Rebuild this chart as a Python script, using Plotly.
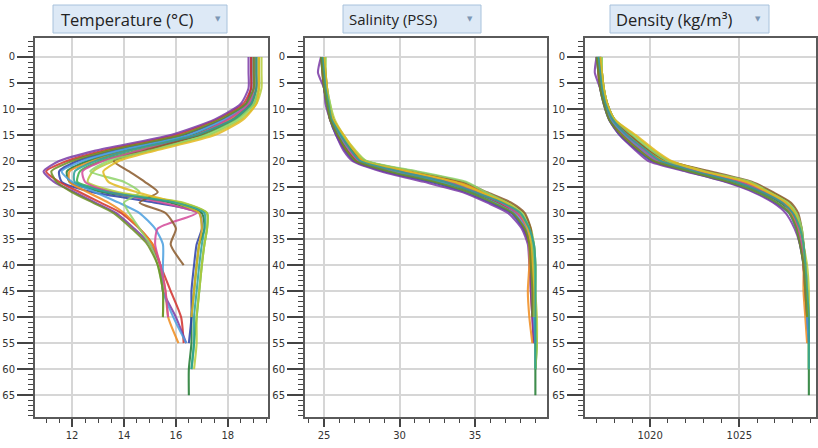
import plotly.graph_objects as go

# ---------------- data ----------------
depth = [0, 3, 6, 9, 12, 15, 18, 20, 22, 24, 26, 28, 30, 33, 36, 40, 45, 50, 55, 60, 65]

colors = ["#1e7a2e", "#3cb043", "#2b3fa8", "#b5cc3a", "#d2302c", "#7b3aa6", "#f08c1e",
          "#4a9fe0", "#d44a9a", "#8a5a2b", "#8fd46a", "#e2b91f", "#2aa198", "#6b8e23"]

N = None
temperature = [
    [19.0, 19.0, 19.0, 18.8, 18.0, 16.6, 14.0, 12.6, 11.8, 11.9, 13.2, 15.8, 17.0, 17.1, 16.9, 16.8, 16.7, 16.6, 16.6, 16.5, 16.5],
    [19.2, 19.2, 19.2, 19.0, 18.3, 17.0, 14.5, 13.1, 12.3, 12.2, 13.6, 16.2, 17.2, 17.2, 17.1, 17.0, 16.9, 16.8, 16.7, 16.6, N],
    [18.9, 18.9, 18.9, 18.7, 17.8, 16.3, 13.6, 12.2, 11.5, 11.6, 12.8, 15.2, 16.9, 17.0, 16.8, 16.7, 16.6, 16.6, 16.5, N, N],
    [19.3, 19.3, 19.3, 19.1, 18.5, 17.3, 14.9, 13.6, 12.8, 12.6, 13.8, 16.3, 17.2, 17.2, 17.1, 17.0, 16.9, 16.8, 16.8, 16.7, N],
    [18.9, 18.9, 18.9, 18.6, 17.6, 16.0, 13.2, 11.8, 11.0, 11.5, 12.3, 13.1, 13.9, 14.6, 15.1, 15.4, 15.8, 16.2, 16.3, N, N],
    [18.8, 18.8, 18.8, 18.5, 17.5, 15.8, 12.9, 11.5, 10.9, 11.3, 12.1, 12.9, 13.7, 14.4, 15.0, 15.4, 15.5, 16.0, 16.4, N, N],
    [19.1, 19.1, 19.1, 18.9, 18.1, 16.8, 14.2, 12.8, 11.9, 11.9, 12.6, 13.4, 14.0, 14.6, 15.1, 15.4, 15.6, 15.7, 16.1, N, N],
    [19.0, 19.0, 19.0, 18.8, 17.9, 16.5, 13.8, 12.4, 11.6, 12.0, 12.9, 13.8, 14.6, 15.2, 15.5, 15.5, 15.5, 15.9, 16.4, N, N],
    [19.0, 19.0, 19.0, 18.8, 18.0, 16.8, 14.6, 13.2, 12.4, 12.5, 13.5, 15.5, 16.8, 15.3, 15.2, 15.4, 15.6, 15.7, N, N, N],
    [19.1, 19.1, 19.1, 18.9, 18.2, 16.9, 14.8, 13.6, 14.2, 14.8, 15.3, 14.6, 15.6, 16.0, 15.8, 16.3, N, N, N, N, N],
    [19.2, 19.2, 19.2, 19.0, 18.4, 17.2, 15.0, 13.4, 12.7, 14.0, 14.6, 14.0, 14.2, 14.6, 15.0, 15.3, 15.5, 15.5, N, N, N],
    [19.2, 19.2, 19.2, 19.1, 18.6, 17.5, 15.2, 13.8, 13.2, 13.4, 14.5, 16.0, 16.9, 17.0, 16.9, 16.8, 16.7, 16.6, N, N, N],
    [19.1, 19.1, 19.1, 18.9, 18.2, 16.8, 14.2, 12.9, 12.1, 12.1, 13.4, 16.0, 17.1, 17.1, 17.0, 16.9, 16.8, 16.7, 16.7, 16.6, N],
    [19.0, 19.0, 19.0, 18.7, 17.7, 16.2, 13.4, 12.0, 11.2, 11.4, 12.0, 12.8, 13.6, 14.3, 14.9, 15.3, 15.5, 15.5, N, N, N],
]

salinity = [
    [24.9, 25.0, 25.1, 25.2, 25.5, 26.0, 26.6, 27.2, 29.5, 32.5, 34.8, 36.5, 37.8, 38.5, 38.8, 38.9, 38.9, 39.0, 39.0, 39.0, 39.0],
    [25.0, 25.0, 25.1, 25.3, 25.6, 26.2, 26.9, 27.6, 30.2, 33.4, 35.3, 36.9, 38.0, 38.6, 38.9, 39.0, 39.0, 39.0, 39.1, 39.0, N],
    [24.8, 24.9, 25.0, 25.2, 25.4, 25.8, 26.4, 27.0, 29.0, 32.0, 34.4, 36.0, 37.4, 38.2, 38.6, 38.8, 38.8, 38.9, 39.0, N, N],
    [25.1, 25.1, 25.2, 25.4, 25.7, 26.3, 27.1, 27.8, 30.8, 34.0, 35.6, 37.2, 38.2, 38.7, 38.9, 39.0, 39.0, 39.1, 39.1, 39.0, N],
    [24.9, 24.9, 25.0, 25.2, 25.4, 25.9, 26.5, 27.3, 29.8, 33.0, 35.0, 36.6, 37.6, 38.3, 38.6, 38.7, 38.7, 38.8, 38.9, N, N],
    [24.8, 24.6, 25.0, 25.1, 25.4, 25.8, 26.3, 26.9, 28.8, 31.6, 34.2, 35.8, 37.2, 38.1, 38.5, 38.6, 38.7, 38.8, 38.9, N, N],
    [25.0, 25.0, 25.1, 25.3, 25.6, 26.1, 26.8, 27.5, 30.4, 33.8, 35.5, 37.0, 37.9, 38.4, 38.6, 38.6, 38.5, 38.6, 38.8, N, N],
    [24.9, 25.0, 25.1, 25.2, 25.5, 26.0, 26.7, 27.4, 29.6, 32.6, 34.6, 36.3, 37.6, 38.4, 38.7, 38.8, 38.8, 38.9, 39.0, N, N],
    [25.0, 25.0, 25.1, 25.3, 25.5, 26.1, 26.7, 27.3, 30.0, 33.2, 35.1, 36.7, 37.8, 38.5, 38.7, 38.8, 38.8, 38.9, N, N, N],
    [25.0, 25.1, 25.2, 25.3, 25.6, 26.2, 26.9, 27.7, 31.0, 34.2, 35.8, 37.4, 38.3, 38.7, 38.8, 38.9, N, N, N, N, N],
    [25.1, 25.1, 25.2, 25.4, 25.6, 26.2, 27.0, 27.8, 31.2, 34.4, 35.7, 37.1, 38.1, 38.6, 38.8, 38.9, 38.9, 38.9, N, N, N],
    [25.0, 25.1, 25.2, 25.3, 25.6, 26.3, 27.0, 27.6, 30.6, 33.6, 35.4, 37.0, 38.0, 38.5, 38.7, 38.8, 38.9, 39.0, N, N, N],
    [24.9, 25.0, 25.1, 25.3, 25.5, 26.1, 26.8, 27.4, 30.0, 33.0, 35.0, 36.8, 38.0, 38.6, 38.9, 39.0, 39.0, 39.0, 39.0, 39.0, N],
    [24.8, 24.9, 25.0, 25.2, 25.4, 25.9, 26.5, 27.1, 29.3, 32.3, 34.6, 36.2, 37.5, 38.3, 38.6, 38.7, 38.8, 38.8, N, N, N],
]

density = [
    [1017.1, 1017.2, 1017.3, 1017.5, 1017.8, 1018.6, 1019.6, 1020.4, 1022.4, 1024.6, 1026.2, 1027.3, 1028.0, 1028.3, 1028.5, 1028.7, 1028.8, 1028.9, 1028.9, 1028.9, 1028.9],
    [1017.2, 1017.3, 1017.4, 1017.6, 1018.0, 1018.9, 1019.9, 1020.8, 1022.8, 1025.1, 1026.5, 1027.6, 1028.1, 1028.4, 1028.6, 1028.7, 1028.8, 1028.9, 1028.9, 1028.9, N],
    [1017.0, 1017.1, 1017.2, 1017.4, 1017.7, 1018.3, 1019.3, 1020.1, 1022.1, 1024.3, 1025.9, 1027.0, 1027.8, 1028.2, 1028.4, 1028.6, 1028.7, 1028.8, 1028.9, N, N],
    [1017.3, 1017.3, 1017.4, 1017.6, 1018.0, 1019.1, 1020.2, 1021.1, 1023.2, 1025.5, 1026.8, 1027.8, 1028.2, 1028.5, 1028.6, 1028.8, 1028.9, 1028.9, 1028.9, 1028.9, N],
    [1017.1, 1017.1, 1017.2, 1017.5, 1017.8, 1018.5, 1019.5, 1020.3, 1022.6, 1024.9, 1026.3, 1027.4, 1027.9, 1028.3, 1028.5, 1028.6, 1028.7, 1028.8, 1028.9, N, N],
    [1017.0, 1016.9, 1017.2, 1017.4, 1017.7, 1018.3, 1019.2, 1019.9, 1022.0, 1024.2, 1025.8, 1026.9, 1027.6, 1028.1, 1028.4, 1028.6, 1028.7, 1028.8, 1028.9, N, N],
    [1017.2, 1017.2, 1017.3, 1017.6, 1017.9, 1018.8, 1019.9, 1020.7, 1023.0, 1025.3, 1026.6, 1027.5, 1027.9, 1028.3, 1028.5, 1028.6, 1028.6, 1028.7, 1028.8, N, N],
    [1017.1, 1017.2, 1017.3, 1017.5, 1017.8, 1018.6, 1019.6, 1020.4, 1022.3, 1024.5, 1026.0, 1027.1, 1027.8, 1028.2, 1028.5, 1028.7, 1028.8, 1028.8, 1028.9, N, N],
    [1017.2, 1017.2, 1017.3, 1017.5, 1017.9, 1018.7, 1019.7, 1020.5, 1022.7, 1025.0, 1026.4, 1027.5, 1028.0, 1028.3, 1028.5, 1028.6, 1028.7, 1028.8, N, N, N],
    [1017.2, 1017.3, 1017.4, 1017.6, 1018.0, 1018.9, 1020.0, 1021.0, 1023.4, 1025.7, 1026.9, 1027.9, 1028.3, 1028.5, 1028.6, 1028.7, N, N, N, N, N],
    [1017.3, 1017.3, 1017.4, 1017.6, 1018.0, 1019.0, 1020.1, 1021.0, 1023.1, 1025.6, 1026.7, 1027.7, 1028.2, 1028.5, 1028.6, 1028.7, 1028.8, 1028.8, N, N, N],
    [1017.2, 1017.3, 1017.4, 1017.6, 1018.0, 1019.2, 1020.3, 1021.2, 1023.0, 1025.4, 1026.6, 1027.6, 1028.1, 1028.4, 1028.6, 1028.7, 1028.8, 1028.9, N, N, N],
    [1017.1, 1017.2, 1017.3, 1017.5, 1017.9, 1018.7, 1019.8, 1020.6, 1022.5, 1024.8, 1026.3, 1027.4, 1028.0, 1028.4, 1028.6, 1028.7, 1028.8, 1028.9, 1028.9, 1028.9, N],
    [1017.0, 1017.1, 1017.2, 1017.4, 1017.7, 1018.4, 1019.4, 1020.2, 1022.2, 1024.4, 1026.0, 1027.1, 1027.8, 1028.2, 1028.4, 1028.6, 1028.7, 1028.8, N, N, N],
]

titles = ["Temperature (°C)", "Salinity (PSS)", "Density (kg/m³)"]

# ---------------- layout helpers ----------------
W, H = 818, 448
def px(x):
    return x / W
def py(y):
    return 1 - y / H

fig = go.Figure()

panels = [
    (temperature, "x", "y"),
    (salinity, "x2", "y2"),
    (density, "x3", "y3"),
]
for data, xa, ya in panels:
    for i, prof in enumerate(data):
        fig.add_trace(go.Scatter(
            x=prof, y=depth, xaxis=xa, yaxis=ya, mode="lines",
            line=dict(color=colors[i % len(colors)], width=2.1, shape="spline", smoothing=0.6),
            opacity=0.85, showlegend=False, hoverinfo="skip", connectgaps=False,
        ))

panel_px = [(35, 268), (305, 547), (585, 816)]
xranges = [[10.57, 19.55], [23.74, 39.77], [1016.35, 1029.3]]
xdticks = [(2, 0.5), (5, 1), (5, 1)]
top, bottom = 38, 417
yrange = [69.2, -3.65]

axis_common = dict(
    showgrid=True, gridcolor="#d6d6d6", gridwidth=1.5,
    showline=True, linecolor="#5a5a5a", linewidth=2, mirror=True,
    ticks="outside", tickcolor="#444", tickwidth=1.5,
    tickfont=dict(family="DejaVu Sans", size=10, color="#333"),
    zeroline=False, fixedrange=True, automargin=False,
)

layout = dict(width=W, height=H, margin=dict(l=0, r=0, t=0, b=0, autoexpand=False),
              paper_bgcolor="white", plot_bgcolor="white", autosize=False)

for k in range(3):
    sx = "" if k == 0 else str(k + 1)
    layout["xaxis" + sx] = dict(
        axis_common, domain=[px(panel_px[k][0]), px(panel_px[k][1])],
        range=xranges[k], tick0=0, dtick=xdticks[k][0], ticklen=8,
        minor=dict(dtick=xdticks[k][1], ticks="outside", ticklen=4, tickcolor="#444",
                   tickwidth=1.2, showgrid=False),
        anchor="y" + sx,
    )
    layout["yaxis" + sx] = dict(
        axis_common, domain=[py(bottom), py(top)], range=yrange,
        tick0=0, dtick=5, ticklen=16,
        minor=dict(dtick=1, ticks="outside", ticklen=5, tickcolor="#444",
                   tickwidth=1.2, showgrid=False),
        anchor="x" + sx,
    )

fig.update_layout(**layout)

# header boxes
boxes = [(53, 227, 59, 218, 16.5), (343, 481, 347, 470, 15), (610, 769, 614, 758, 16.5)]
shapes = []
annotations = []
for (x0, x1, tx, ax, fs), title in zip(boxes, titles):
    shapes.append(dict(type="rect", xref="paper", yref="paper",
                       x0=px(x0), x1=px(x1), y0=py(33), y1=py(5),
                       fillcolor="#dde9f6", line=dict(color="#a8c2dc", width=1)))
    annotations.append(dict(xref="paper", yref="paper", x=px(tx), y=py(19),
                            xanchor="left", yanchor="middle", showarrow=False,
                            text=title, font=dict(family="Open Sans", size=fs, color="#222")))
    annotations.append(dict(xref="paper", yref="paper", x=px(ax), y=py(19),
                            xanchor="center", yanchor="middle", showarrow=False,
                            text="▼", font=dict(family="DejaVu Sans", size=7, color="#7d97b5")))
fig.update_layout(shapes=shapes, annotations=annotations)

fig.write_html(
    "out.html",
    config={"displayModeBar": False},
    post_script="document.body.style.margin='0';document.body.style.overflow='hidden';",
)
